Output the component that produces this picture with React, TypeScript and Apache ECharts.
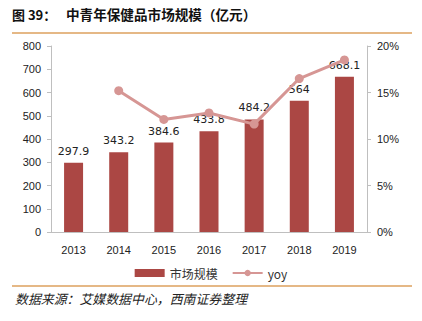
import React, { useEffect, useRef } from "react";
import * as echarts from "echarts";

const years = ["2013", "2014", "2015", "2016", "2017", "2018", "2019"];
const marketSize = [297.9, 343.2, 384.6, 433.8, 484.2, 564, 668.1];
const yoy = [null, 15.2, 12.1, 12.8, 11.6, 16.5, 18.5];
const titlePrefix = "图 39：";
const titleText = "中青年保健品市场规模（亿元）";
const sourceText = "数据来源：艾媒数据中心，西南证券整理";

export default function App() {
  const ref = useRef<HTMLDivElement>(null);
  useEffect(() => {
    const chart = echarts.init(ref.current!, null, { renderer: "svg" });
    const axisColor = "#BFBFBF";
    chart.setOption({
      animation: false,
      backgroundColor: "#ffffff",
      grid: { left: 51, right: 55, top: 46, bottom: 89 },
      legend: {
        left: "center",
        top: 262,
        itemWidth: 30,
        itemHeight: 8,
        itemGap: 14,
        textStyle: { fontFamily: "Noto Sans CJK SC", fontSize: 12, color: "#333" },
        data: [
          { name: "市场规模", icon: "rect" },
          { name: "yoy" },
        ],
      },
      graphic: [
        {
          type: "text",
          left: 12,
          top: 8,
          style: {
            text: titlePrefix,
            font: "bold 13px 'Noto Sans CJK SC'",
            fill: "#111",
          },
        },
        {
          type: "text",
          left: 66,
          top: 7.5,
          style: {
            text: titleText,
            font: "bold 13.6px 'Noto Sans CJK SC'",
            fill: "#111",
          },
        },
        {
          type: "line",
          shape: { x1: 12, y1: 33, x2: 412, y2: 33 },
          style: { stroke: "#DDA15E", lineWidth: 1.5 },
        },
        {
          type: "line",
          shape: { x1: 12, y1: 286, x2: 412, y2: 286 },
          style: { stroke: "#DDA15E", lineWidth: 1.5 },
        },
        {
          type: "text",
          left: 15,
          top: 292,
          style: {
            text: sourceText,
            font: "italic 12.9px 'Noto Sans CJK SC'",
            fill: "#222",
          },
        },
      ],
      xAxis: {
        type: "category",
        data: years,
        axisLine: { lineStyle: { color: axisColor } },
        axisTick: { show: false },
        axisLabel: { fontFamily: "Liberation Sans", fontSize: 11, color: "#222", margin: 12 },
      },
      yAxis: [
        {
          type: "value",
          min: 0,
          max: 800,
          interval: 100,
          axisLine: { show: true, lineStyle: { color: axisColor } },
          axisTick: { show: true, length: 4, lineStyle: { color: axisColor } },
          splitLine: { show: false },
          axisLabel: { fontFamily: "Liberation Sans", fontSize: 11, color: "#222", margin: 10 },
        },
        {
          type: "value",
          min: 0,
          max: 20,
          interval: 5,
          axisLine: { show: true, lineStyle: { color: axisColor } },
          axisTick: { show: true, length: 4, lineStyle: { color: axisColor } },
          splitLine: { show: false },
          axisLabel: {
            fontFamily: "Liberation Sans",
            fontSize: 11,
            color: "#222",
            margin: 10,
            formatter: "{value}%",
          },
        },
      ],
      series: [
        {
          name: "市场规模",
          type: "bar",
          data: marketSize,
          barWidth: 19,
          itemStyle: { color: "#AB4744" },
          label: {
            show: true,
            position: "top",
            distance: 6,
            fontFamily: "DejaVu Sans",
            fontSize: 11,
            color: "#222",
          },
        },
        {
          name: "yoy",
          type: "line",
          yAxisIndex: 1,
          data: yoy,
          symbol: "circle",
          symbolSize: 9,
          lineStyle: { color: "#D69694", width: 3 },
          itemStyle: { color: "#D69694" },
        },
      ],
    });
    return () => chart.dispose();
  }, []);
  return <div ref={ref} style={{ width: 422, height: 321, position: "absolute", left: 0, top: 0 }} />;
}
